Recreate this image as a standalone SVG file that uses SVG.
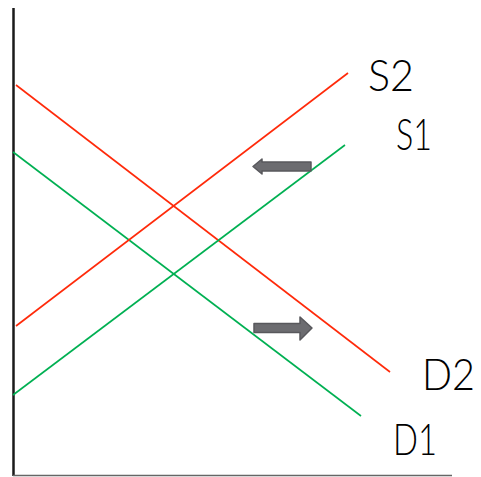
<svg xmlns="http://www.w3.org/2000/svg" width="481" height="477" viewBox="0 0 481 477">
<style>
.red{stroke:#ff2a0a;stroke-width:1.6;fill:none}
.grn{stroke:#00b052;stroke-width:1.6;fill:none}
.lbl{font-family:Lato,"Liberation Sans",Arial,sans-serif;font-weight:300;font-size:44px;fill:#000}
.arr{fill:#6c6c70;stroke:#58585c;stroke-width:1.5;stroke-linejoin:round}
</style>
<rect width="481" height="477" fill="#fff"/>
<g id="axes">
<line x1="13.5" y1="8" x2="13.5" y2="476" stroke="#1a1a1a" stroke-width="2.5"/>
<line x1="13" y1="475.5" x2="452" y2="475.5" stroke="#666" stroke-width="1.5"/>
</g>
<g id="connectors">
<line id="D2" class="red" x1="16" y1="85" x2="390" y2="372"/>
<line id="D1" class="grn" x1="13" y1="152" x2="361" y2="416"/>
<line id="S2" class="red" x1="16" y1="326" x2="348" y2="73"/>
<line id="S1" class="grn" x1="13" y1="395" x2="345" y2="145"/>
</g>
<g id="arrow-left">
<path class="arr" d="M311,162 L262,162 L262,159 L253,166.5 L262,174 L262,171 L311,171 Z"/>
</g>
<g id="arrow-right">
<path class="arr" d="M254,323.5 L300,323.5 L300,317 L312,328 L300,340 L300,332.5 L254,332.5 Z"/>
</g>
<g id="labels">
<text class="lbl" x="368" y="91" textLength="46" lengthAdjust="spacingAndGlyphs">S2</text>
<text class="lbl" x="396" y="150" textLength="36" lengthAdjust="spacingAndGlyphs">S1</text>
<text class="lbl" x="422" y="390" textLength="53" lengthAdjust="spacingAndGlyphs">D2</text>
<text class="lbl" x="393" y="455" textLength="44" lengthAdjust="spacingAndGlyphs">D1</text>
</g>
</svg>
